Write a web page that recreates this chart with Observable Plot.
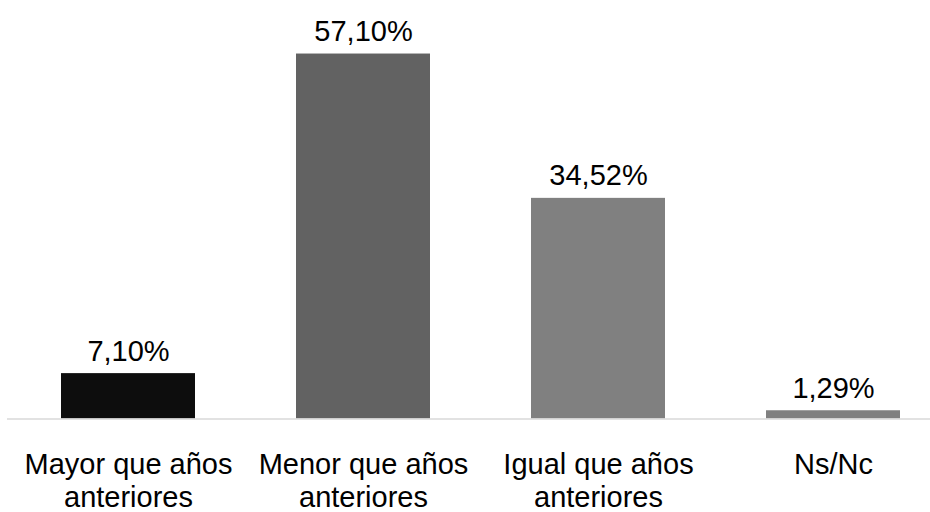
<!DOCTYPE html>
<html>
<head>
<meta charset="utf-8">
<script src="https://cdn.jsdelivr.net/npm/d3@7"></script>
<script src="https://cdn.jsdelivr.net/npm/@observablehq/plot@0.6"></script>
<style>
  html, body { margin: 0; padding: 0; background: #fff; }
  #chart svg { display: block; }
</style>
</head>
<body>
<div id="chart"></div>
<script>
const categories = ["Mayor que años\nanteriores", "Menor que años\nanteriores", "Igual que años\nanteriores", "Ns/Nc"];
const values = [7.10, 57.10, 34.52, 1.29];
const valueLabels = ["7,10%", "57,10%", "34,52%", "1,29%"];
const barColors = ["#0d0d0d", "#626262", "#808080", "#808080"];

const data = categories.map((c, i) => ({cat: c, value: values[i], label: valueLabels[i], color: barColors[i]}));

const chart = Plot.plot({
  width: 930,
  height: 512,
  marginTop: 35,
  marginBottom: 93.5,
  marginLeft: 7,
  marginRight: 0,
  style: {fontFamily: "'Liberation Sans', Arial, sans-serif", color: "#000", background: "#fff"},
  x: {domain: categories, range: [37.5, 924.5], paddingInner: 0.428, paddingOuter: 0.1, label: null},
  y: {domain: [0, 60], axis: null},
  marks: [
    Plot.barY(data, {x: "cat", y: "value", fill: "color"}),
    Plot.ruleY([0], {stroke: "#d9d9d9", strokeWidth: 1.5}),
    Plot.text(data, {x: "cat", y: "value", text: "label", lineAnchor: "bottom", dy: -13, fontSize: 29, fill: "#000"}),
    Plot.axisX({tickSize: 0, tickPadding: 32, fontSize: 29, lineHeight: 1.13, label: null, fill: "#000"})
  ]
});
document.getElementById("chart").appendChild(chart);
</script>
</body>
</html>
